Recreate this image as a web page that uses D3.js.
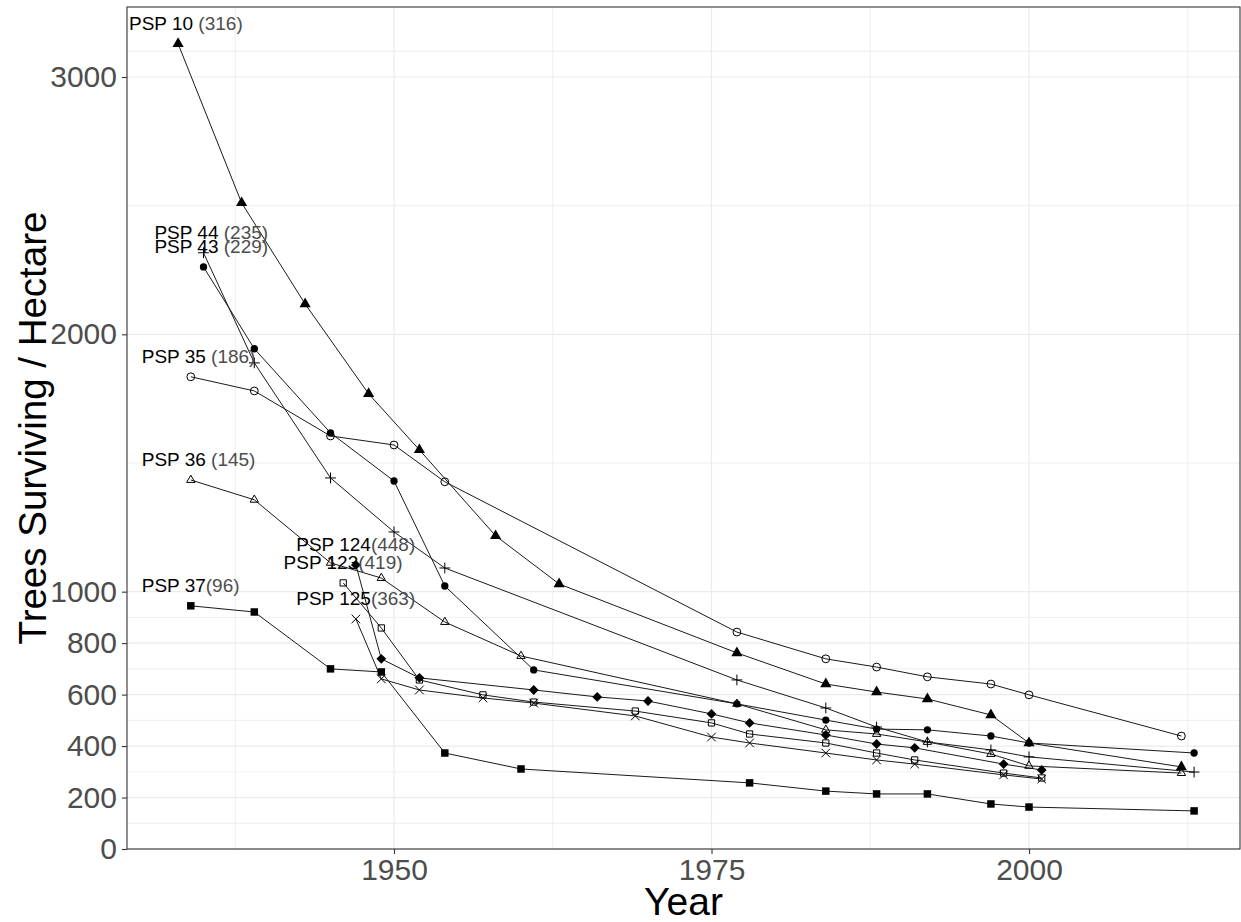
<!DOCTYPE html>
<html>
<head>
<meta charset="utf-8">
<script src="https://cdnjs.cloudflare.com/ajax/libs/d3/7.8.5/d3.min.js"></script>
<style>
    body { margin: 0; background: #ffffff; }
    text { font-family: "Liberation Sans", Arial, sans-serif; }
</style>
</head>
<body>
<svg id="chart" width="1241" height="922"></svg>
<script>

/** plot labels **/
var plotNames = ["PSP 10", "PSP 44", "PSP 43", "PSP 35", "PSP 36", "PSP 37", "PSP 124", "PSP 123", "PSP 125"];
var plotCounts = ["(316)", "(235)", "(229)", "(186)", "(145)", "(96)", "(448)", "(419)", "(363)"];
var labelSeps = [" ", " ", " ", " ", " ", "", "", "", ""];

/** measurements per plot: year and trees surviving per hectare **/
var psp10Years = [1933, 1938, 1943, 1948, 1952, 1958, 1963, 1977, 1984, 1988, 1992, 1997, 2000, 2012];
var psp10Trees = [3129, 2511, 2118, 1769, 1551, 1217, 1030, 762, 641, 610, 583, 521, 412, 319];

var psp44Years = [1935, 1939, 1945, 1950, 1954, 1977, 1984, 1988, 1992, 1997, 2000, 2013];
var psp44Trees = [2317, 1889, 1442, 1232, 1092, 657, 548, 474, 416, 385, 358, 299];

var psp43Years = [1935, 1939, 1945, 1950, 1954, 1961, 1977, 1984, 1988, 1992, 1997, 2000, 2013];
var psp43Trees = [2262, 1944, 1617, 1430, 1022, 696, 564, 501, 466, 463, 439, 412, 373];

var psp35Years = [1934, 1939, 1945, 1950, 1954, 1977, 1984, 1988, 1992, 1997, 2000, 2012];
var psp35Trees = [1835, 1780, 1605, 1570, 1427, 843, 739, 707, 669, 641, 599, 439];

var psp36Years = [1934, 1939, 1945, 1949, 1954, 1960, 1977, 1984, 1988, 1992, 1997, 2000, 2012];
var psp36Trees = [1434, 1357, 1112, 1053, 882, 750, 564, 463, 447, 416, 369, 323, 295];

var psp37Years = [1934, 1939, 1945, 1949, 1954, 1960, 1978, 1984, 1988, 1992, 1997, 2000, 2013];
var psp37Trees = [945, 921, 700, 688, 373, 311, 257, 225, 214, 214, 175, 163, 148];

var psp124Years = [1947, 1949, 1952, 1961, 1966, 1970, 1975, 1978, 1984, 1988, 1991, 1998, 2001];
var psp124Trees = [1104, 739, 665, 618, 591, 575, 525, 490, 443, 408, 393, 330, 307];

var psp123Years = [1946, 1949, 1952, 1957, 1961, 1969, 1975, 1978, 1984, 1988, 1991, 1998, 2001];
var psp123Trees = [1034, 859, 657, 599, 571, 536, 490, 447, 412, 373, 346, 295, 276];

var psp125Years = [1947, 1949, 1952, 1957, 1961, 1969, 1975, 1978, 1984, 1988, 1991, 1998, 2001];
var psp125Trees = [894, 661, 618, 587, 567, 517, 435, 412, 373, 346, 330, 288, 272];

/** axis breaks **/
var xTicks = [1950, 1975, 2000];
var xMinor = [1937.5, 1962.5, 1987.5, 2012.5];
var yTicks = [0, 200, 400, 600, 800, 1000, 2000, 3000];
var yMinor = [100, 300, 500, 700, 900, 1500, 2500, 3100];

var plotYears = [psp10Years, psp44Years, psp43Years, psp35Years, psp36Years, psp37Years, psp124Years, psp123Years, psp125Years];
var plotTrees = [psp10Trees, psp44Trees, psp43Trees, psp35Trees, psp36Trees, psp37Trees, psp124Trees, psp123Trees, psp125Trees];

// marker style for each plot (shape, filled or not, size)
var markerStyle = {
    "PSP 10":  {type: d3.symbolTriangle, fill: true,  size: 54},
    "PSP 44":  {type: d3.symbolPlus,     fill: false, size: 40},
    "PSP 43":  {type: d3.symbolCircle,   fill: true,  size: 42},
    "PSP 35":  {type: d3.symbolCircle,   fill: false, size: 48},
    "PSP 36":  {type: d3.symbolTriangle2,fill: false, size: 50},
    "PSP 37":  {type: d3.symbolSquare,   fill: true,  size: 56},
    "PSP 124": {type: d3.symbolDiamond2, fill: true,  size: 62},
    "PSP 123": {type: d3.symbolSquare2,  fill: false, size: 50},
    "PSP 125": {type: d3.symbolTimes,    fill: false, size: 50}
};

var margin = {top: 7, right: 1, bottom: 73, left: 127},
    width = 1241 - margin.left - margin.right,
    height = 922 - margin.top - margin.bottom;

var svg = d3.select("#chart");

var xScale = d3.scaleLinear()
    .domain([1928.976, 2016.614])
    .range([margin.left, margin.left + width]);

var yScale = d3.scaleLinear()
    .domain([0, 3272])
    .range([margin.top + height, margin.top]);

var series = plotNames.map(function(name, i){
    return {
        name: name,
        count: plotCounts[i],
        sep: labelSeps[i],
        points: plotYears[i].map(function(yr, j){
            return {year: yr, trees: plotTrees[i][j]};
        })
    };
});

/** grid **/
var grid = svg.append("g");

grid.selectAll(".yminor")
    .data(yMinor)
    .enter().append("line")
    .attr("x1", margin.left)
    .attr("x2", margin.left + width)
    .attr("y1", function(d){ return yScale(d); })
    .attr("y2", function(d){ return yScale(d); })
    .attr("stroke", "#ebebeb")
    .attr("stroke-width", 0.8);

grid.selectAll(".xminor")
    .data(xMinor)
    .enter().append("line")
    .attr("y1", margin.top)
    .attr("y2", margin.top + height)
    .attr("x1", function(d){ return xScale(d); })
    .attr("x2", function(d){ return xScale(d); })
    .attr("stroke", "#ebebeb")
    .attr("stroke-width", 0.8);

grid.selectAll(".ymajor")
    .data(yTicks)
    .enter().append("line")
    .attr("x1", margin.left)
    .attr("x2", margin.left + width)
    .attr("y1", function(d){ return yScale(d); })
    .attr("y2", function(d){ return yScale(d); })
    .attr("stroke", "#ebebeb")
    .attr("stroke-width", 1.2);

grid.selectAll(".xmajor")
    .data(xTicks)
    .enter().append("line")
    .attr("y1", margin.top)
    .attr("y2", margin.top + height)
    .attr("x1", function(d){ return xScale(d); })
    .attr("x2", function(d){ return xScale(d); })
    .attr("stroke", "#ebebeb")
    .attr("stroke-width", 1.2);

/** axes **/
var xAxis = svg.append("g")
    .attr("transform", "translate(0," + (margin.top + height) + ")")
    .call(d3.axisBottom(xScale).tickValues(xTicks).tickSize(5).tickPadding(5).tickFormat(d3.format("d")));

var yAxis = svg.append("g")
    .attr("transform", "translate(" + margin.left + ",0)")
    .call(d3.axisLeft(yScale).tickValues(yTicks).tickSize(5).tickPadding(5).tickFormat(d3.format("d")));

[xAxis, yAxis].forEach(function(ax){
    ax.select(".domain").remove();
    ax.selectAll(".tick line").attr("stroke", "#333333").attr("stroke-width", 1.1);
    ax.selectAll(".tick text")
        .attr("fill", "#4d4d4d")
        .style("font-size", "30px")
        .style("font-family", "'Liberation Sans', Arial, sans-serif");
});

// panel border
svg.append("rect")
    .attr("x", margin.left)
    .attr("y", margin.top)
    .attr("width", width)
    .attr("height", height)
    .attr("fill", "none")
    .attr("stroke", "#333333")
    .attr("stroke-width", 1.1);

svg.append("text")
    .attr("x", margin.left + width / 2)
    .attr("y", 915)
    .attr("text-anchor", "middle")
    .style("font-size", "39px")
    .text("Year");

svg.append("text")
    .attr("transform", "translate(46," + (margin.top + height / 2) + ") rotate(-90)")
    .attr("text-anchor", "middle")
    .style("font-size", "38.5px")
    .text("Trees Surviving / Hectare");

/** lines **/
var line = d3.line()
    .x(function(d){ return xScale(d.year); })
    .y(function(d){ return yScale(d.trees); });

svg.append("g").selectAll("path")
    .data(series)
    .enter().append("path")
    .attr("d", function(d){ return line(d.points); })
    .attr("fill", "none")
    .attr("stroke", "#1a1a1a")
    .attr("stroke-width", 1);

/** points **/
var groups = svg.append("g").selectAll("g")
    .data(series)
    .enter().append("g");

groups.selectAll("path")
    .data(function(d){
        return d.points.map(function(p){ return {year: p.year, trees: p.trees, name: d.name}; });
    })
    .enter().append("path")
    .attr("transform", function(d){
        return "translate(" + xScale(d.year) + "," + yScale(d.trees) + ")";
    })
    .attr("d", function(d){
        var st = markerStyle[d.name];
        return d3.symbol().type(st.type).size(st.size)();
    })
    .attr("fill", function(d){ return markerStyle[d.name].fill ? "#000000" : "none"; })
    .attr("stroke", "#000000")
    .attr("stroke-width", function(d){ return markerStyle[d.name].fill ? 0 : 1; });

/** labels at each plot's first measurement **/
var labels = svg.append("g").selectAll("text")
    .data(series)
    .enter().append("text")
    .attr("y", function(d){ return yScale(d.points[0].trees) - 14; })
    .style("font-size", "19px")
    .attr("xml:space", "preserve");

labels.append("tspan")
    .attr("class", "nm")
    .attr("fill", "#000000")
    .text(function(d){ return d.name; });

labels.append("tspan")
    .attr("fill", "#4d4d4d")
    .text(function(d){ return d.sep + d.count; });

labels.attr("x", function(d){
    var w = d3.select(this).select(".nm").node().getComputedTextLength();
    return xScale(d.points[0].year) + 15 - w;
});

</script>
</body>
</html>
